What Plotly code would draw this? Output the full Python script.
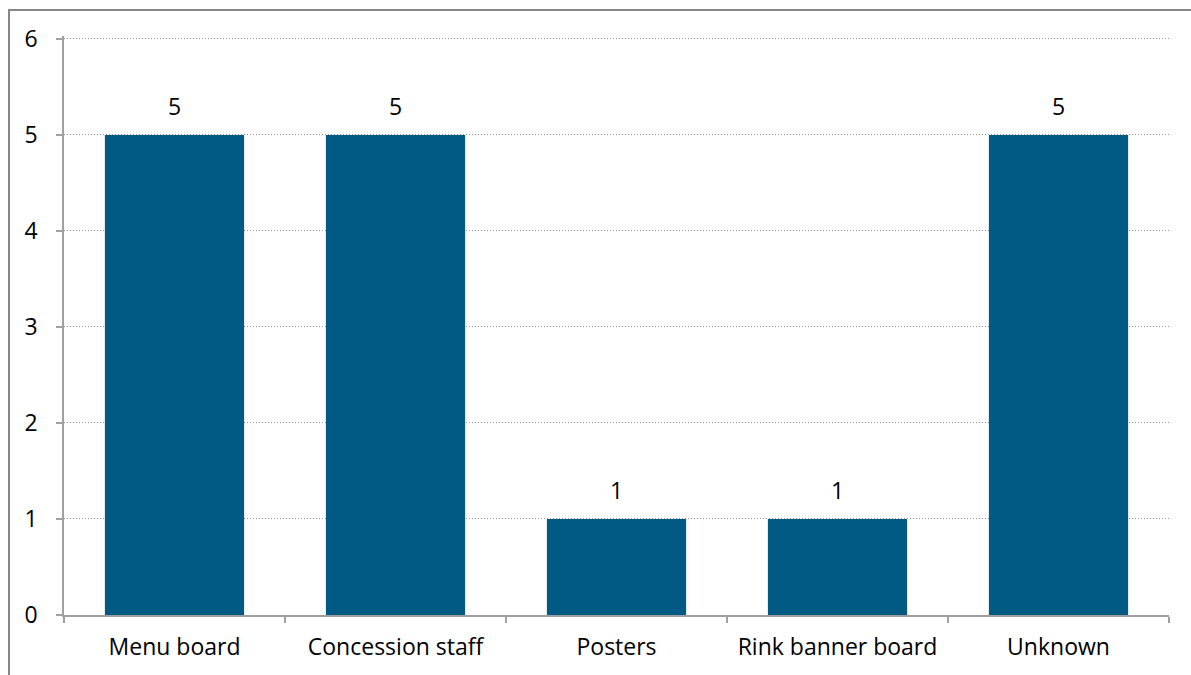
import plotly.graph_objects as go

categories = ["Menu board", "Concession staff", "Posters", "Rink banner board", "Unknown"]
values = [5, 5, 1, 1, 5]
y_ticks = [0, 1, 2, 3, 4, 5, 6]

W, H = 1191, 675
Y_TOP = 6.03
ml, mr, mb = 64, 22, 60
mt = int(round(39 - (Y_TOP - 6) * 576 / 6))
pw, ph = W - ml - mr, H - mt - mb
FS = 23

fig = go.Figure(go.Bar(
    x=categories, y=values,
    marker=dict(color="#015a84", line=dict(width=0)),
    cliponaxis=False,
))

annotations = [
    dict(x=c, y=v, xref="x", yref="y", text=str(v), showarrow=False,
         yanchor="bottom", yshift=11, font=dict(family="Open Sans", size=FS, color="#000000"))
    for c, v in zip(categories, values)
]

fig.update_layout(
    width=W, height=H,
    margin=dict(l=ml, r=mr, t=mt, b=mb),
    paper_bgcolor="white", plot_bgcolor="white",
    bargap=0.37,
    showlegend=False,
    font=dict(family="Open Sans", size=FS, color="#000000"),
    annotations=annotations,
    shapes=[dict(
        type="rect", xref="paper", yref="paper",
        x0=(9 - ml) / pw, x1=(W + 5 - ml) / pw,
        y0=(H - mb - (H + 5)) / ph, y1=(H - mb - 10) / ph,
        line=dict(color="#868686", width=2), fillcolor="rgba(0,0,0,0)",
        layer="below",
    )],
)

fig.update_xaxes(
    type="category",
    showline=True, linecolor="#a0a0a0", linewidth=1.5,
    ticks="outside", tickson="boundaries", ticklen=6, tickcolor="#a0a0a0", tickwidth=1.5,
    showgrid=False,
    tickfont=dict(family="Open Sans", size=FS),
    ticklabelstandoff=11,
)
fig.update_yaxes(
    range=[0, Y_TOP], tickvals=y_ticks,
    showline=True, linecolor="#a0a0a0", linewidth=1.5,
    ticks="outside", ticklen=6, tickcolor="#a0a0a0", tickwidth=1.5,
    showgrid=True, gridcolor="#909090", griddash="1px,2px", gridwidth=1.2,
    zeroline=False,
    tickfont=dict(family="Open Sans", size=FS),
    ticklabelstandoff=14,
)

fig.write_html("out.html")
